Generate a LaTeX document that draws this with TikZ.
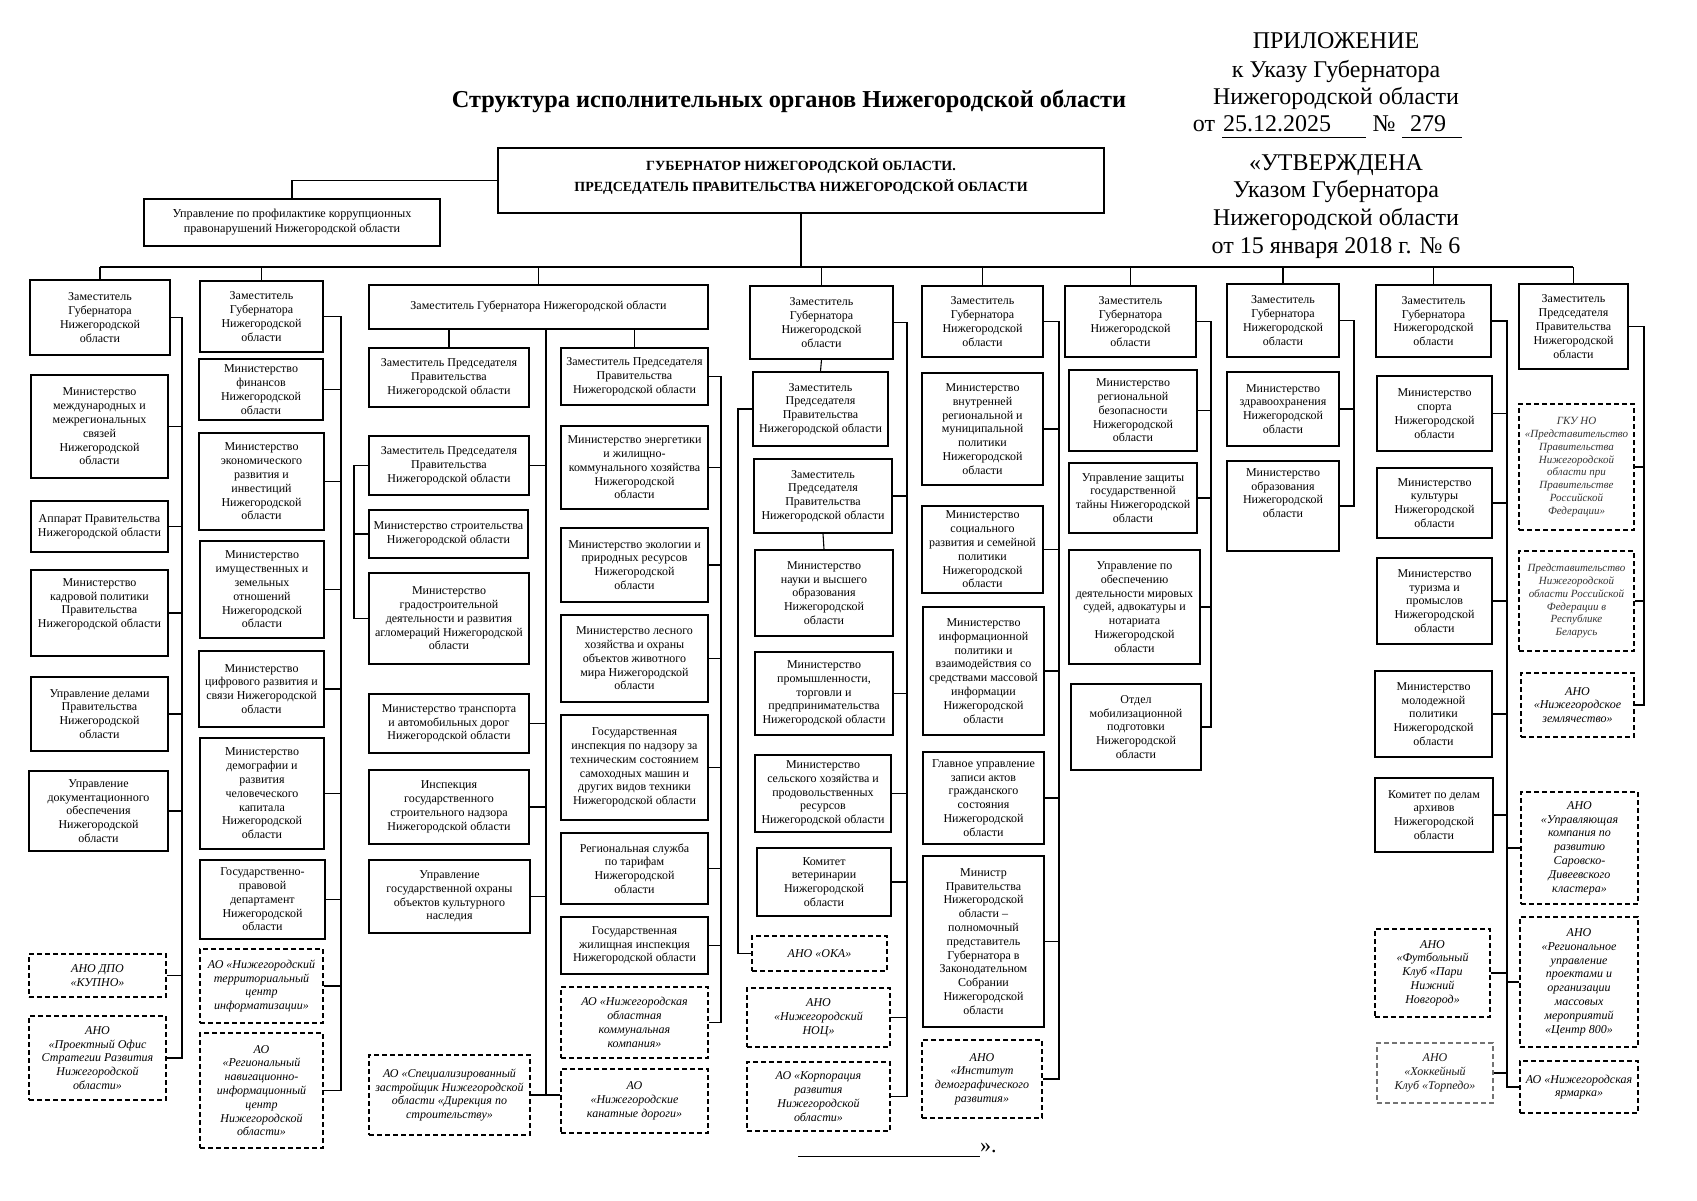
\documentclass[tikz,border=0pt]{standalone}
\usepackage{fontspec}
\setmainfont{Liberation Serif}
\begin{document}
\begin{tikzpicture}[x=1pt,y=-1pt,
  box/.style={draw,line width=1.3pt,rectangle,inner sep=0pt,align=center,font=\fontsize{12}{13.8}\selectfont},
  dbox/.style={box,dashed,dash pattern=on 5pt off 3pt,font=\fontsize{12}{13.8}\selectfont\itshape},
  gbox/.style={dbox,draw=black!55,text=black!90},
  sbox/.style={dbox,text=black!80,font=\fontsize{11}{12.9}\selectfont\itshape},
  conn/.style={line width=1.1pt},
  hdr/.style={anchor=base,inner sep=0pt,font=\fontsize{24}{28}\selectfont}]
\newcommand\bx[7][box]{%
  \pgfmathsetmacro\mybw{#5-#3}\pgfmathsetmacro\mybh{#6-#4}%
  \node[#1,minimum width=\mybw pt,minimum height=\mybh pt] (#2) at ({(#3+#5)/2},{(#4+#6)/2}) {#7};}
\fill[white] (0,0) rectangle (1697,1200);
\useasboundingbox (0,0) rectangle (1697,1200);

% ---------- header ----------
\node[anchor=base,inner sep=0pt,font=\fontsize{24.3}{28}\selectfont\bfseries] (title) at (789,107) {Структура исполнительных органов Нижегородской области};
\node[hdr] (h1) at (1336,48) {ПРИЛОЖЕНИЕ};
\node[hdr] (h2) at (1336,77) {к Указу Губернатора};
\node[hdr] (h3) at (1336,104) {Нижегородской области};
\node[hdr] (h4a) at (1204,131) {от};
\node[hdr] (h4b) at (1277,131) {25.12.2025};
\node[hdr] (h4c) at (1384,131) {№};
\node[hdr] (h4d) at (1428,131) {279};
\draw[line width=1pt] (1222,137) -- (1366,137);
\draw[line width=1pt] (1402,137) -- (1462,137);
\node[hdr] (h5) at (1336,170) {«УТВЕРЖДЕНА};
\node[hdr] (h6) at (1336,197) {Указом Губернатора};
\node[hdr] (h7) at (1336,225) {Нижегородской области};
\node[hdr] (h8) at (1336,253) {от 15 января 2018 г. № 6};

% ---------- governor ----------
\bx[box,line width=1.8pt]{gov}{498}{148}{1104}{213}{}
\node[inner sep=0pt,align=center,font=\fontsize{14}{15}\selectfont\bfseries] (govt) at ([yshift=4pt]gov.center) {ГУБЕРНАТОР НИЖЕГОРОДСКОЙ ОБЛАСТИ.\\[6pt]ПРЕДСЕДАТЕЛЬ ПРАВИТЕЛЬСТВА НИЖЕГОРОДСКОЙ ОБЛАСТИ};
\bx[box,font=\fontsize{12.2}{15}\selectfont]{anti}{144}{199}{440}{246}{Управление по профилактике коррупционных\\правонарушений Нижегородской области}
\draw[conn] (gov.west) -- (gov.west -| anti.north) -- (anti.north);
\coordinate (busL) at (100,267);
\coordinate (busR) at (1573,267);
\draw[conn] (gov.south) -- (gov.south |- busL);
\draw[conn] (busL) -- (busR);

% ---------- column 1 ----------
\bx{A1}{30}{280}{170}{355}{Заместитель\\Губернатора\\Нижегородской\\области}
\bx{A2}{31}{375}{168}{478}{Министерство\\международных и\\межрегиональных\\связей\\Нижегородской\\области}
\bx{A3}{31}{501}{168}{552}{Аппарат Правительства\\Нижегородской области}
\bx{A4}{31}{570}{168}{656}{Министерство\\кадровой политики\\Правительства\\Нижегородской области\\[6pt]}
\bx{A5}{31}{677}{168}{751}{Управление делами\\Правительства\\Нижегородской\\области}
\bx{A6}{29}{771}{168}{851}{Управление\\документационного\\обеспечения\\Нижегородской\\области}
\bx[dbox]{A7}{29}{954}{166}{997}{АНО ДПО\\«КУПНО»}
\bx[dbox]{A8}{29}{1016}{166}{1100}{АНО\\«Проектный Офис\\Стратегии Развития\\Нижегородской\\области»}
\coordinate (tA) at (182,0);
\draw[conn] (A1.east) -- (A1.east -| tA) -- (A8.east -| tA) -- (A8.east);
\foreach \n in {A2,A3,A4,A5,A6,A7} \draw[conn] (\n.east) -- (\n.east -| tA);

% ---------- column 2 ----------
\bx{B1}{200}{281}{323}{352}{Заместитель\\Губернатора\\Нижегородской\\области}
\bx{B2}{199}{359}{323}{420}{Министерство\\финансов\\Нижегородской\\области}
\bx{B3}{199}{433}{324}{530}{Министерство\\экономического\\развития и\\инвестиций\\Нижегородской\\области}
\bx{B4}{200}{541}{324}{638}{Министерство\\имущественных и\\земельных\\отношений\\Нижегородской\\области}
\bx{B5}{199}{651}{324}{727}{Министерство\\цифрового развития и\\связи Нижегородской\\области}
\bx{B6}{200}{738}{324}{849}{Министерство\\демографии и\\развития\\человеческого\\капитала\\Нижегородской\\области}
\bx{B7}{200}{860}{325}{939}{Государственно-\\правовой\\департамент\\Нижегородской\\области}
\bx[dbox]{B8}{200}{949}{323}{1023}{АО «Нижегородский\\территориальный\\центр\\информатизации»}
\bx[dbox]{B9}{200}{1033}{323}{1148}{АО\\«Региональный\\навигационно-\\информационный\\центр\\Нижегородской\\области»}
\coordinate (tB) at (341,0);
\draw[conn] (B1.east) -- (B1.east -| tB) -- (B9.east -| tB) -- (B9.east);
\foreach \n in {B2,B3,B4,B5,B6,B7,B8} \draw[conn] (\n.east) -- (\n.east -| tB);

% ---------- column 3 ----------
\bx{C0}{369}{285}{708}{329}{\raisebox{4pt}{Заместитель Губернатора Нижегородской области}}
\bx{C1}{369}{348}{529}{407}{Заместитель Председателя\\Правительства\\Нижегородской области}
\bx{C2}{561}{348}{708}{405}{Заместитель Председателя\\Правительства\\Нижегородской области}
\bx{C3}{369}{436}{529}{495}{Заместитель Председателя\\Правительства\\Нижегородской области}
\bx{C4}{369}{510}{528}{558}{Министерство строительства\\Нижегородской области}
\bx{C5}{369}{573}{529}{664}{Министерство\\градостроительной\\деятельности и развития\\агломераций Нижегородской\\области}
\bx{C6}{369}{694}{529}{753}{Министерство транспорта\\и автомобильных дорог\\Нижегородской области}
\bx{C7}{369}{770}{529}{844}{Инспекция\\государственного\\строительного надзора\\Нижегородской области}
\bx{C8}{369}{860}{530}{933}{Управление\\государственной охраны\\объектов культурного\\наследия}
\bx[dbox]{C9}{369}{1055}{530}{1135}{АО «Специализированный\\застройщик Нижегородской\\области «Дирекция по\\строительству»}
\bx{C10}{561}{426}{708}{509}{Министерство энергетики\\и жилищно-\\коммунального хозяйства\\Нижегородской\\области}
\bx{C11}{561}{528}{708}{602}{Министерство экологии и\\природных ресурсов\\Нижегородской\\области}
\bx{C12}{561}{615}{708}{702}{Министерство лесного\\хозяйства и охраны\\объектов животного\\мира Нижегородской\\области}
\bx{C13}{561}{715}{708}{820}{Государственная\\инспекция по надзору за\\техническим состоянием\\самоходных машин и\\других видов техники\\Нижегородской области}
\bx{C14}{561}{833}{708}{904}{Региональная служба\\по тарифам\\Нижегородской\\области}
\bx{C15}{561}{917}{708}{974}{Государственная\\жилищная инспекция\\Нижегородской области}
\bx[dbox]{C16}{561}{987}{708}{1058}{АО «Нижегородская\\областная\\коммунальная\\компания»}
\bx[dbox]{C17}{561}{1069}{708}{1133}{АО\\«Нижегородские\\канатные дороги»}
\draw[conn] (C1.north) -- (C1.north |- C0.south);
\draw[conn] (C2.north) -- (C2.north |- C0.south);
\coordinate (tCm) at (546,0);
\draw[conn] (C0.south -| tCm) -- (C9.east -| tCm);
\foreach \n in {C3,C6,C7,C8} \draw[conn] (\n.east) -- (\n.east -| tCm);
\draw[conn] (C9.east) -- (C17.west |- C9.east);
\coordinate (tCl) at (354,0);
\draw[conn] (C3.west) -- (C3.west -| tCl) -- (C5.west -| tCl) -- (C5.west);
\draw[conn] (C4.west) -- (C4.west -| tCl);
\coordinate (tCr) at (721,0);
\draw[conn] (C2.east) -- (C2.east -| tCr) -- (C16.east -| tCr) -- (C16.east);
\foreach \n in {C10,C11,C12,C13,C14,C15} \draw[conn] (\n.east) -- (\n.east -| tCr);

% ---------- column 4 ----------
\bx{D1}{750}{286}{893}{359}{Заместитель\\Губернатора\\Нижегородской\\области}
\bx{D2}{753}{372}{888}{446}{Заместитель\\Председателя\\Правительства\\Нижегородской области}
\bx{D3}{754}{459}{892}{533}{Заместитель\\Председателя\\Правительства\\Нижегородской области}
\bx{D4}{755}{550}{893}{636}{Министерство\\науки и высшего\\образования\\Нижегородской\\области}
\bx{D5}{755}{652}{893}{735}{Министерство\\промышленности,\\торговли и\\предпринимательства\\Нижегородской области}
\bx{D6}{755}{755}{891}{832}{Министерство\\сельского хозяйства и\\продовольственных\\ресурсов\\Нижегородской области}
\bx{D7}{757}{848}{891}{916}{Комитет\\ветеринарии\\Нижегородской\\области}
\bx[dbox]{D8}{752}{936}{887}{971}{АНО «ОКА»}
\bx[dbox]{D9}{747}{988}{890}{1047}{АНО\\«Нижегородский\\НОЦ»}
\bx[dbox]{D10}{747}{1062}{890}{1131}{АО «Корпорация\\развития\\Нижегородской\\области»}
\draw[conn] (D1.south) -- (D2.north);
\draw[conn] (D3.south) -- (D4.north);
\coordinate (tDl) at (738,0);
\draw[conn] (D2.west) -- (D2.west -| tDl) -- (D8.west -| tDl) -- (D8.west);
\coordinate (tDr) at (907,0);
\draw[conn] (D1.east) -- (D1.east -| tDr) -- (D10.east -| tDr) -- (D10.east);
\foreach \n in {D3,D5,D6,D7,D9} \draw[conn] (\n.east) -- (\n.east -| tDr);

% ---------- column 5 ----------
\bx{E1}{922}{286}{1043}{357}{Заместитель\\Губернатора\\Нижегородской\\области}
\bx{E2}{922}{373}{1043}{485}{Министерство\\внутренней\\региональной и\\муниципальной\\политики\\Нижегородской\\области}
\bx{E3}{922}{506}{1043}{593}{Министерство\\социального\\развития и семейной\\политики\\Нижегородской\\области}
\bx{E4}{923}{607}{1044}{735}{Министерство\\информационной\\политики и\\взаимодействия со\\средствами массовой\\информации\\Нижегородской\\области}
\bx{E5}{923}{752}{1044}{844}{Главное управление\\записи актов\\гражданского\\состояния\\Нижегородской\\области}
\bx{E6}{923}{856}{1044}{1027}{Министр\\Правительства\\Нижегородской\\области –\\полномочный\\представитель\\Губернатора в\\Законодательном\\Собрании\\Нижегородской\\области}
\bx[dbox]{E7}{922}{1040}{1042}{1118}{АНО\\«Институт\\демографического\\развития»}
\coordinate (tE) at (1059,0);
\draw[conn] (E1.east) -- (E1.east -| tE) -- (E7.east -| tE) -- (E7.east);
\foreach \n in {E2,E3,E4,E5,E6} \draw[conn] (\n.east) -- (\n.east -| tE);

% ---------- column 6 ----------
\bx{F1}{1065}{286}{1196}{357}{Заместитель\\Губернатора\\Нижегородской\\области}
\bx{F2}{1069}{370}{1197}{451}{Министерство\\региональной\\безопасности\\Нижегородской\\области}
\bx{F3}{1069}{463}{1197}{533}{Управление защиты\\государственной\\тайны Нижегородской\\области}
\bx{F4}{1069}{550}{1200}{664}{Управление по\\обеспечению\\деятельности мировых\\судей, адвокатуры и\\нотариата\\Нижегородской\\области}
\bx{F5}{1071}{684}{1201}{770}{Отдел\\мобилизационной\\подготовки\\Нижегородской\\области}
\coordinate (tF) at (1211,0);
\draw[conn] (F1.east) -- (F1.east -| tF) -- (F5.east -| tF) -- (F5.east);
\foreach \n in {F2,F3,F4} \draw[conn] (\n.east) -- (\n.east -| tF);

% ---------- column 7 ----------
\bx{G1}{1227}{284}{1339}{357}{Заместитель\\Губернатора\\Нижегородской\\области}
\bx{G2}{1227}{372}{1339}{446}{Министерство\\здравоохранения\\Нижегородской\\области}
\bx{G3}{1227}{461}{1339}{551}{Министерство\\образования\\Нижегородской\\области\\[12pt]}
\coordinate (tG) at (1354,0);
\draw[conn] (G1.east) -- (G1.east -| tG) -- (G3.east -| tG) -- (G3.east);
\draw[conn] (G2.east) -- (G2.east -| tG);

% ---------- column 8 ----------
\bx{H1}{1376}{285}{1491}{357}{Заместитель\\Губернатора\\Нижегородской\\области}
\bx{H2}{1377}{376}{1492}{451}{Министерство\\спорта\\Нижегородской\\области}
\bx{H3}{1377}{468}{1492}{538}{Министерство\\культуры\\Нижегородской\\области}
\bx{H4}{1377}{558}{1492}{644}{Министерство\\туризма и\\промыслов\\Нижегородской\\области}
\bx{H5}{1375}{671}{1492}{757}{Министерство\\молодежной\\политики\\Нижегородской\\области}
\bx{H6}{1375}{778}{1493}{852}{Комитет по делам\\архивов\\Нижегородской\\области}
\bx[dbox]{H7}{1375}{929}{1490}{1017}{АНО\\«Футбольный\\Клуб «Пари\\Нижний\\Новгород»}
\bx[gbox]{H8}{1377}{1043}{1493}{1103}{АНО\\«Хоккейный\\Клуб «Торпедо»}
\bx[dbox]{H9}{1521}{792}{1638}{904}{АНО\\«Управляющая\\компания по\\развитию\\Саровско-\\Дивеевского\\кластера»}
\bx[dbox]{H10}{1520}{917}{1638}{1047}{АНО\\«Региональное\\управление\\проектами и\\организации\\массовых\\мероприятий\\«Центр 800»}
\bx[dbox]{H11}{1520}{1061}{1638}{1113}{АО «Нижегородская\\ярмарка»}
\coordinate (tH) at (1507,0);
\draw[conn] (H1.east) -- (H1.east -| tH) -- (H11.west -| tH) -- (H11.west);
\foreach \n in {H2,H3,H4,H5,H6,H7,H8} \draw[conn] (\n.east) -- (\n.east -| tH);
\foreach \n in {H9,H10} \draw[conn] (\n.west) -- (\n.west -| tH);

% ---------- column 9 ----------
\bx{I1}{1519}{284}{1628}{369}{Заместитель\\Председателя\\Правительства\\Нижегородской\\области}
\bx[sbox]{I2}{1519}{404}{1634}{530}{ГКУ НО\\«Представительство\\Правительства\\Нижегородской\\области при\\Правительстве\\Российской\\Федерации»}
\bx[sbox]{I3}{1519}{551}{1634}{651}{Представительство\\Нижегородской\\области Российской\\Федерации в\\Республике\\Беларусь}
\bx[dbox]{I4}{1521}{673}{1634}{737}{АНО\\«Нижегородское\\землячество»}
\coordinate (tI) at (1644,0);
\draw[conn] (I1.east) -- (I1.east -| tI) -- (I4.east -| tI) -- (I4.east);
\foreach \n in {I2,I3} \draw[conn] (\n.east) -- (\n.east -| tI);

% ---------- drops from bus ----------
\foreach \n in {A1,B1,C0,D1,E1,F1,G1,H1,I1} \draw[conn] (\n.north) -- (\n.north |- busL);

% ---------- closing ----------
\coordinate (endL) at (798,1156);
\node[anchor=base west,inner sep=0pt,font=\fontsize{22}{26}\selectfont] (endq) at (980,1152) {».};
\draw[line width=1pt] (endL) -- (endL -| endq.west);
\end{tikzpicture}
\end{document}
